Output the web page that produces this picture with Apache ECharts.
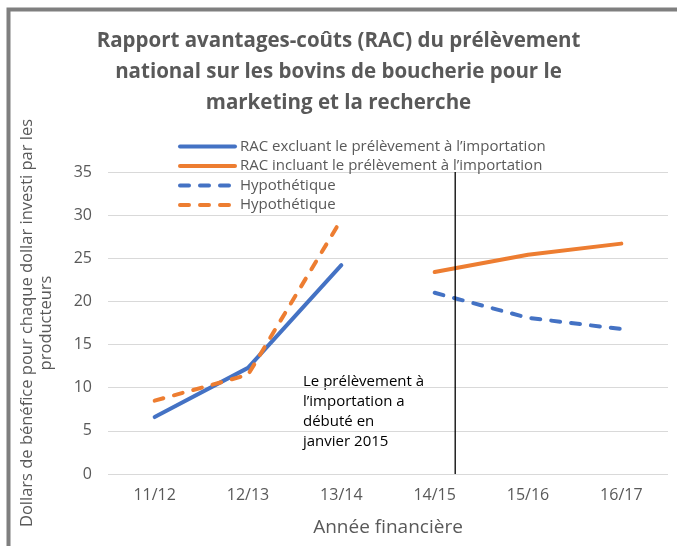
<!DOCTYPE html>
<html>
<head>
<meta charset="utf-8">
<script src="https://cdn.jsdelivr.net/npm/echarts@6/dist/echarts.min.js"></script>
<style>
html,body{margin:0;padding:0;background:#fff;}
#chart{width:677px;height:546px;}
</style>
</head>
<body>
<div id="chart"></div>
<script>
const categories = ['11/12', '12/13', '13/14', '14/15', '15/16', '16/17'];
const racExcluant = [6.6, 12.3, 24.2, null, null, null];
const racIncluant = [null, null, null, 23.4, 25.4, 26.7];
const hypoBleu = [null, null, null, 21.0, 18.1, 16.8];
const hypoOrange = [8.5, 11.5, 29.5, null, null, null];
const importStartPos = 3.22; // position of the vertical marker on the category scale (index units)
const yTicks = [0, 5, 10, 15, 20, 25, 30, 35];

const FONT = '"Open Sans", "Noto Sans", sans-serif';
const GRAY = '#595959';
const BLUE = '#4472C4';
const ORANGE = '#ED7D31';

const chart = echarts.init(document.getElementById('chart'), null, {renderer: 'canvas'});
chart.setOption({
  backgroundColor: '#fff',
  animation: false,
  textStyle: {fontFamily: FONT},
  title: {
    text: 'Rapport avantages-coûts (RAC) du prélèvement\nnational sur les bovins de boucherie pour le\nmarketing et la recherche',
    left: 'center',
    top: 21,
    textStyle: {fontFamily: FONT, fontWeight: 'bold', fontSize: 20.5, color: GRAY, lineHeight: 31}
  },
  legend: {
    orient: 'vertical',
    left: 173,
    top: 134,
    itemWidth: 55,
    itemHeight: 15,
    itemGap: 4.5,
    itemStyle: {opacity: 0},
    lineStyle: {width: 4, cap: 'round'},
    textStyle: {fontFamily: FONT, fontSize: 15, color: GRAY},
    data: ['RAC excluant le prélèvement à l’importation', 'RAC incluant le prélèvement à l’importation', 'Hypothétique', 'Hypothétique ']
  },
  grid: {left: 108, right: 9, top: 172, bottom: 72, containLabel: false},
  xAxis: [{
    type: 'category',
    data: categories,
    boundaryGap: true,
    axisLine: {show: false},
    axisTick: {show: false},
    axisLabel: {fontFamily: FONT, fontSize: 16, color: GRAY, margin: 13},
    name: 'Année financière',
    nameLocation: 'middle',
    nameGap: 44,
    nameTextStyle: {fontFamily: FONT, fontSize: 19, color: GRAY}
  }, {
    type: 'value',
    min: -0.5,
    max: 5.5,
    show: false
  }],
  yAxis: {
    type: 'value',
    min: yTicks[0],
    max: yTicks[yTicks.length - 1],
    interval: 5,
    axisLine: {show: false},
    axisTick: {show: false},
    splitLine: {lineStyle: {color: '#d9d9d9', width: 1}},
    axisLabel: {fontFamily: FONT, fontSize: 16, color: GRAY, margin: 16},
    name: 'Dollars de bénéfice pour chaque dollar investi par les\nproducteurs',
    nameLocation: 'middle',
    nameGap: 52,
    nameRotate: 90,
    nameTextStyle: {fontFamily: FONT, fontSize: 16.5, color: GRAY, lineHeight: 19}
  },
  series: [
    {name: 'RAC excluant le prélèvement à l’importation', type: 'line', data: racExcluant, symbol: 'none',
     lineStyle: {color: BLUE, width: 4, cap: 'round'}, itemStyle: {color: BLUE}},
    {name: 'RAC incluant le prélèvement à l’importation', type: 'line', data: racIncluant, symbol: 'none',
     lineStyle: {color: ORANGE, width: 4, cap: 'round'}, itemStyle: {color: ORANGE}},
    {name: 'Hypothétique', type: 'line', data: hypoBleu, symbol: 'none',
     lineStyle: {color: BLUE, width: 4, type: [9, 11], cap: 'round'}, itemStyle: {color: BLUE}},
    {name: 'Hypothétique ', type: 'line', data: hypoOrange, symbol: 'none',
     lineStyle: {color: ORANGE, width: 4, type: [9, 11], cap: 'round'}, itemStyle: {color: ORANGE}},
    {name: 'marker', type: 'line', xAxisIndex: 1, data: [[importStartPos, yTicks[0]], [importStartPos, yTicks[yTicks.length - 1]]],
     symbol: 'none', lineStyle: {color: '#000', width: 1.3}, silent: true, z: 5}
  ],
  graphic: [
    {type: 'rect', left: 6, top: 7, shape: {width: 700, height: 600}, style: {fill: 'none', stroke: '#7f7f7f', lineWidth: 4}, silent: true},
    {type: 'text', left: 303, top: 372, style: {text: 'Le prélèvement à\nl’importation a\ndébuté en\njanvier 2015', font: '15px ' + FONT, fill: '#000', lineHeight: 20}}
  ]
});
</script>
</body>
</html>
